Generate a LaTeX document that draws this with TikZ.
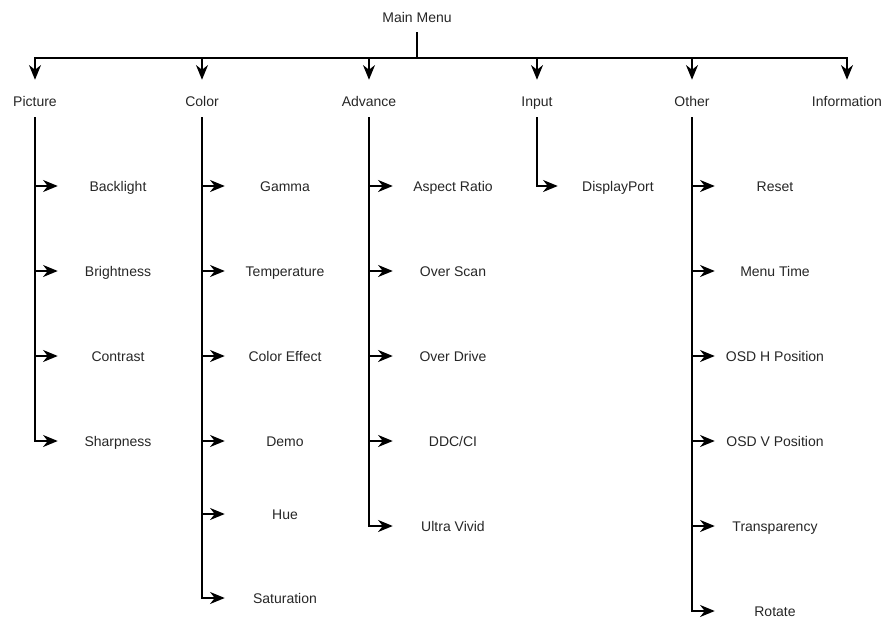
\documentclass[tikz,border=0pt]{standalone}
\usepackage{fontspec}
\setmainfont{Liberation Sans}
\usetikzlibrary{arrows.meta}
\begin{document}
\begin{tikzpicture}[x=0.75pt,y=-0.75pt,
  lbl/.style={inner sep=0pt, text height=7.5pt, text depth=0pt, font=\fontsize{10.5}{12}\selectfont, text=black!85},
  item/.style={lbl, minimum width=90pt},
  conn/.style={line width=0.9pt, draw=black},
  arr/.style={conn, -{Stealth[length=11pt,width=9pt,inset=3.5pt]}},
  down/.style={arr, shorten >=12pt},
  trunk/.style={arr, shorten <=8.25pt}
]
\useasboundingbox (0,0) rectangle (886,618);

\node[lbl] (main) at (417,17) {Main Menu};
\coordinate (hub) at (417,58);

\node[lbl] (picture) at (35,101) {Picture};
\node[lbl] (color) at (202,101) {Color};
\node[lbl] (advance) at (369,101) {Advance};
\node[lbl] (input) at (537,101) {Input};
\node[lbl] (other) at (692,101) {Other};
\node[lbl] (info) at (847,101) {Information};

\draw[conn, shorten <=7.5pt] (main) -- (hub);
\foreach \n in {picture,color,advance,input,other,info}
  \draw[down] (hub) -| (\n);

% Picture
\node[item] (backlight) at (118,186) {Backlight};
\node[item] (brightness) at (118,271) {Brightness};
\node[item] (contrast) at (118,356) {Contrast};
\node[item] (sharpness) at (118,441) {Sharpness};
\foreach \n in {backlight,brightness,contrast,sharpness}
  \draw[trunk] (picture) |- (\n);

% Color
\node[item] (gamma) at (285,186) {Gamma};
\node[item] (temperature) at (285,271) {Temperature};
\node[item] (coloreffect) at (285,356) {Color Effect};
\node[item] (demo) at (285,441) {Demo};
\node[item] (hue) at (285,514) {Hue};
\node[item] (saturation) at (285,598) {Saturation};
\foreach \n in {gamma,temperature,coloreffect,demo,hue,saturation}
  \draw[trunk] (color) |- (\n);

% Advance
\node[item] (aspect) at (453,186) {Aspect Ratio};
\node[item] (overscan) at (453,271) {Over Scan};
\node[item] (overdrive) at (453,356) {Over Drive};
\node[item] (ddcci) at (453,441) {DDC/CI};
\node[item] (ultravivid) at (453,526) {Ultra Vivid};
\foreach \n in {aspect,overscan,overdrive,ddcci,ultravivid}
  \draw[trunk] (advance) |- (\n);

% Input
\node[item] (displayport) at (618,186) {DisplayPort};
\draw[trunk] (input) |- (displayport);

% Other
\node[item] (reset) at (775,186) {Reset};
\node[item] (menutime) at (775,271) {Menu Time};
\node[item] (osdh) at (775,356) {OSD H Position};
\node[item] (osdv) at (775,441) {OSD V Position};
\node[item] (transparency) at (775,526) {Transparency};
\node[item] (rotate) at (775,611) {Rotate};
\foreach \n in {reset,menutime,osdh,osdv,transparency,rotate}
  \draw[trunk] (other) |- (\n);
\end{tikzpicture}
\end{document}
